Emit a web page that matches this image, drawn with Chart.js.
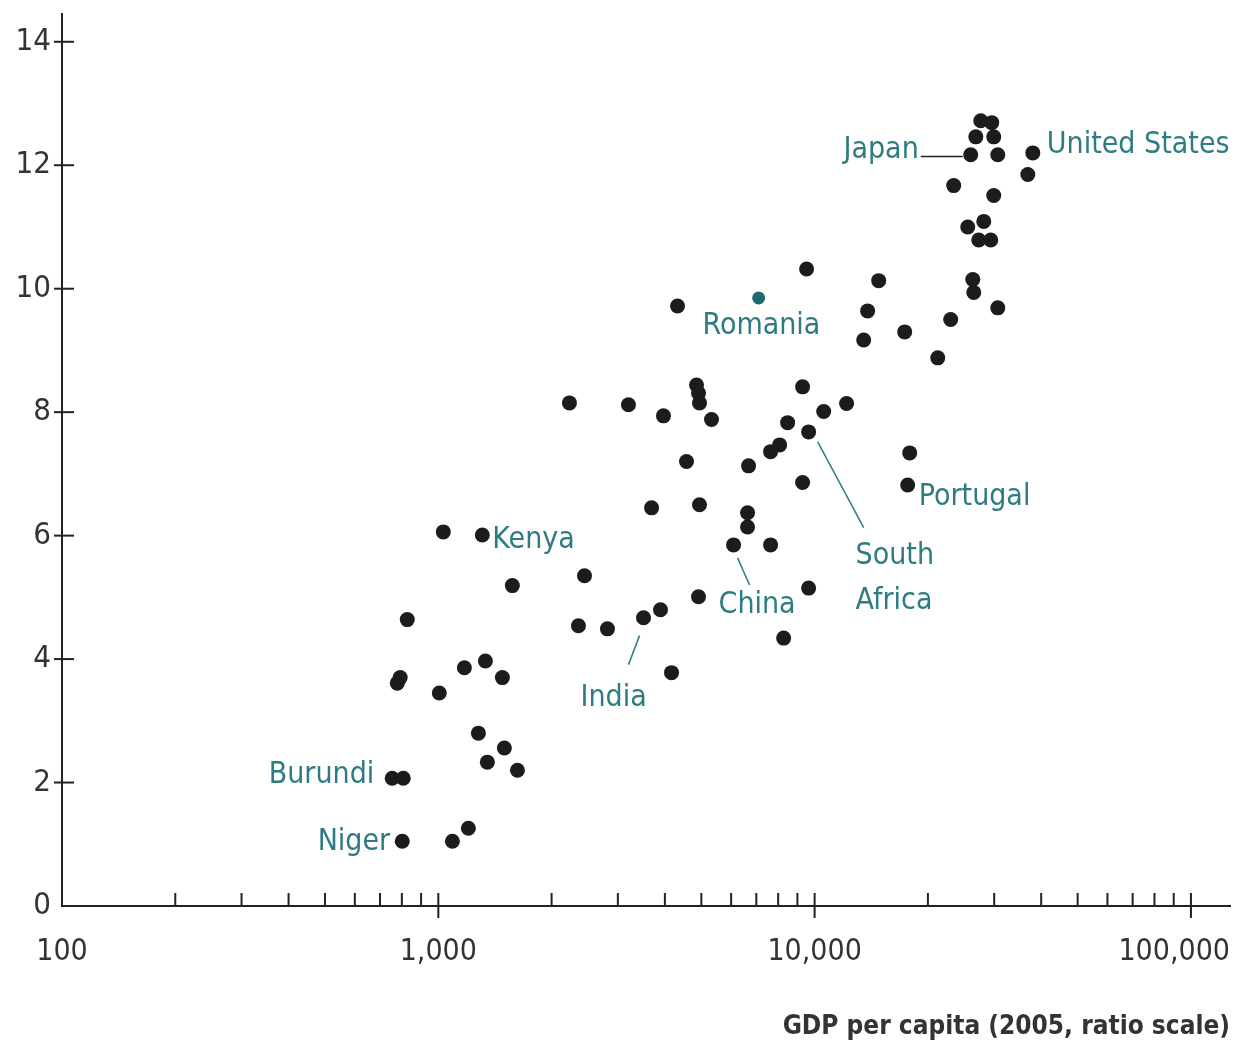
<!DOCTYPE html>
<html>
<head>
<meta charset="utf-8">
<script src="https://cdn.jsdelivr.net/npm/chart.js@4.4.1/dist/chart.umd.min.js"></script>
<style>
html, body { margin: 0; padding: 0; background: #fff; }
#wrap { width: 1239px; height: 1049px; }
</style>
</head>
<body>
<div id="wrap"><canvas id="gdpChart"></canvas></div>
<script>
// GDP per capita (x) and index value (y) per country
const gdpPerCapita = [
    754, 807, 802, 1090, 1202, 778, 792, 827, 1006, 1173,
    1334, 1480, 1278, 1498, 1350, 1623, 1031, 1309, 1573, 2446,
    2357, 2815, 3510, 3894, 4166, 4914, 3687, 4944, 4566, 6634,
    6634, 6090, 7638, 6675, 8273, 9639, 2231, 3201, 3966, 4855,
    4914, 4944, 5321, 9290, 12160, 10570, 8477, 9639, 8072, 7638,
    9290, 17890, 17670, 4322, 9521, 14800, 13830, 13500, 17350, 22990,
    21240, 26320, 26480, 30670, 25520, 28150, 27300, 29380, 23420, 29920,
    36860, 38000, 27640, 29560, 26810, 29920, 25990, 30670
];
const indexValues = [
    2.07, 2.07, 1.05, 1.05, 1.26, 3.61, 3.70, 4.64, 3.45, 3.86,
    3.97, 3.70, 2.80, 2.56, 2.33, 2.20, 6.06, 6.01, 5.19, 5.35,
    4.54, 4.49, 4.67, 4.80, 3.78, 5.01, 6.45, 6.50, 7.20, 6.37,
    6.14, 5.85, 5.85, 7.13, 4.34, 5.15, 8.15, 8.12, 7.94, 8.44,
    8.31, 8.15, 7.88, 8.41, 8.14, 8.01, 7.83, 7.68, 7.47, 7.36,
    6.86, 7.34, 6.82, 9.72, 10.32, 10.13, 9.64, 9.17, 9.30, 9.50,
    8.88, 10.15, 9.94, 9.69, 11.00, 11.09, 10.79, 10.79, 11.67, 11.51,
    11.85, 12.20, 12.72, 12.69, 12.46, 12.46, 12.17, 12.17
];
const romaniaGdp = [7100];
const romaniaIndex = [9.85];

// country labels (anchored in data units)
const labelTexts = ['Japan', 'United States', 'Romania', 'Kenya', 'Portugal', 'South', 'Africa', 'China', 'India', 'Burundi', 'Niger'];
const labelX = [18910, 41400, 5035, 1392, 18910, 12850, 12850, 5555, 2386, 676, 745];
const labelY = [12.25, 12.32, 9.40, 5.93, 6.63, 5.67, 4.93, 4.88, 3.37, 2.12, 1.04];
const labelAlign = ['right', 'left', 'left', 'left', 'left', 'left', 'left', 'left', 'left', 'right', 'right'];

// leader lines: Japan, India, China, South Africa
const leaderX1 = [19140, 3202, 6241, 10190];
const leaderY1 = [12.14, 3.91, 5.64, 7.52];
const leaderX2 = [24750, 3425, 6716, 13500];
const leaderY2 = [12.14, 4.38, 5.20, 6.13];

const xTickValues = [100, 200, 300, 400, 500, 600, 700, 800, 900,
    1000, 2000, 3000, 4000, 5000, 6000, 7000, 8000, 9000,
    10000, 20000, 30000, 40000, 50000, 60000, 70000, 80000, 90000, 100000];
const xMajorValues = [100, 1000, 10000, 100000];
const xMajorLabels = ['100', '1,000', '10,000', '100,000'];
const yTickValues = [0, 2, 4, 6, 8, 10, 12, 14];

const narrow = "'DejaVu Sans Condensed', 'Liberation Sans Narrow', sans-serif";
const inkColor = '#1c1c1c';
const tealColor = '#2e7c82';

const annotate = {
    id: 'annotate',
    afterDraw(chart) {
        const { ctx, scales: { x, y }, chartArea } = chart;
        ctx.save();
        ctx.strokeStyle = '#222';
        ctx.lineWidth = 2;

        // x tick marks (pointing up, decades cross the axis)
        xTickValues.forEach(v => {
            if (v === 100) return;
            const px = x.getPixelForValue(v);
            const major = xMajorValues.includes(v);
            ctx.beginPath();
            ctx.moveTo(px, chartArea.bottom - 13);
            ctx.lineTo(px, chartArea.bottom + (major ? 12 : 0));
            ctx.stroke();
        });

        // x tick labels, kept inside the canvas
        ctx.fillStyle = '#333';
        ctx.font = `30px ${narrow}`;
        ctx.textAlign = 'center';
        ctx.textBaseline = 'top';
        xMajorValues.forEach((v, i) => {
            const w = ctx.measureText(xMajorLabels[i]).width;
            const px = Math.min(x.getPixelForValue(v), chart.width - 9 - w / 2);
            ctx.fillText(xMajorLabels[i], px, chartArea.bottom + 31);
        });

        // y tick marks cross the axis
        yTickValues.forEach(v => {
            if (v === 0) return;
            const py = y.getPixelForValue(v);
            ctx.beginPath();
            ctx.moveTo(chartArea.left - 8, py);
            ctx.lineTo(chartArea.left + 12, py);
            ctx.stroke();
        });

        // leader lines
        ctx.lineWidth = 1.5;
        leaderX1.forEach((lx, i) => {
            ctx.strokeStyle = i === 0 ? '#222' : tealColor;
            ctx.beginPath();
            ctx.moveTo(x.getPixelForValue(lx), y.getPixelForValue(leaderY1[i]));
            ctx.lineTo(x.getPixelForValue(leaderX2[i]), y.getPixelForValue(leaderY2[i]));
            ctx.stroke();
        });

        // country labels
        ctx.fillStyle = tealColor;
        ctx.font = `30px ${narrow}`;
        ctx.textBaseline = 'middle';
        labelTexts.forEach((t, i) => {
            ctx.textAlign = labelAlign[i];
            ctx.fillText(t, x.getPixelForValue(labelX[i]), y.getPixelForValue(labelY[i]));
        });
        ctx.restore();
    }
};

new Chart(document.getElementById('gdpChart'), {
    type: 'scatter',
    data: {
        datasets: [{
            data: gdpPerCapita.map((g, i) => ({ x: g, y: indexValues[i] })),
            backgroundColor: inkColor,
            borderColor: inkColor,
            pointRadius: 7.5,
            borderWidth: 0
        }, {
            data: romaniaGdp.map((g, i) => ({ x: g, y: romaniaIndex[i] })),
            backgroundColor: '#1d6b70',
            borderColor: '#1d6b70',
            pointRadius: 6.5,
            borderWidth: 0
        }]
    },
    options: {
        responsive: true,
        maintainAspectRatio: false,
        animation: false,
        layout: { padding: { top: 14, right: 9, left: 0, bottom: 0 } },
        plugins: {
            legend: { display: false },
            tooltip: { enabled: false }
        },
        scales: {
            x: {
                type: 'logarithmic',
                min: 100,
                max: 127000,
                afterBuildTicks: s => { s.ticks = xTickValues.map(v => ({ value: v })); },
                afterFit: s => {
                    s.height = 143;
                    s.paddingLeft = 0;
                    s.paddingRight = 0;
                },
                grid: { display: false, drawTicks: false },
                border: { display: true, color: '#222', width: 2 },
                ticks: { display: false },
                title: {
                    display: true,
                    text: 'GDP per capita (2005, ratio scale)',
                    align: 'end',
                    color: '#333',
                    font: { family: narrow, size: 26, weight: 'bold' },
                    padding: { top: 0, bottom: 6 }
                }
            },
            y: {
                min: 0,
                max: 14.45,
                afterBuildTicks: s => { s.ticks = yTickValues.map(v => ({ value: v })); },
                afterFit: s => {
                    s.width = 62;
                    s.paddingTop = 0;
                    s.paddingBottom = 0;
                },
                grid: { display: false, drawTicks: false },
                border: { display: true, color: '#222', width: 2 },
                ticks: {
                    padding: 11,
                    color: '#333',
                    font: { family: narrow, size: 31 }
                }
            }
        }
    },
    plugins: [annotate]
});
</script>
</body>
</html>
